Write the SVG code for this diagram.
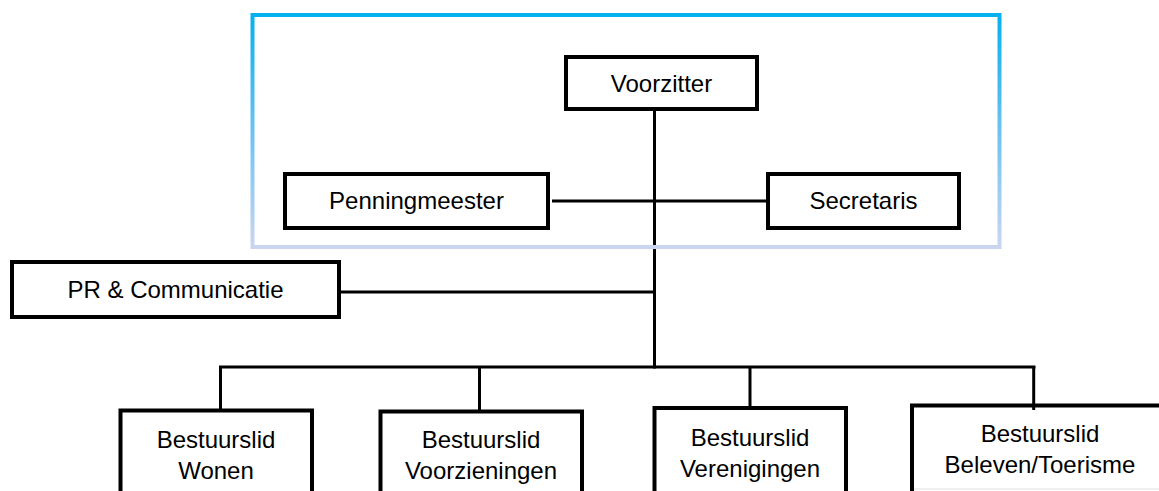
<svg xmlns="http://www.w3.org/2000/svg" width="1159" height="491" viewBox="0 0 1159 491">
  <defs>
    <linearGradient id="frameGrad" gradientUnits="userSpaceOnUse" x1="0" y1="13" x2="0" y2="249">
      <stop offset="0" stop-color="#05B0F0"/>
      <stop offset="0.5" stop-color="#6DC2EF"/>
      <stop offset="1" stop-color="#CBD6F0"/>
    </linearGradient>
  </defs>
  <style>
    .box { fill: #FFFFFF; stroke: #000000; stroke-width: 4; }
    .open { fill: none; stroke: #000000; stroke-width: 4; }
    .conn { fill: none; stroke: #000000; stroke-width: 3; }
    .lbl { font-family: "Liberation Sans", Arial, sans-serif; font-size: 24px; fill: #000000; text-anchor: middle; }
  </style>
  <rect x="0" y="0" width="1159" height="491" fill="#FFFFFF"/>

  <g id="connectors">
    <line class="conn" x1="654.5" y1="109" x2="654.5" y2="368.5"/>
    <line class="conn" x1="552" y1="201" x2="766" y2="201"/>
    <line class="conn" x1="341" y1="292" x2="654.5" y2="292"/>
    <line class="conn" x1="219" y1="367" x2="1035.5" y2="367"/>
    <line class="conn" x1="220.5" y1="367" x2="220.5" y2="409"/>
    <line class="conn" x1="479.5" y1="367" x2="479.5" y2="410"/>
    <line class="conn" x1="750" y1="367" x2="750" y2="407"/>
    <line class="conn" x1="1033.7" y1="367" x2="1033.7" y2="410"/>
  </g>

  <g id="frame">
    <rect x="252.5" y="15" width="747" height="232" fill="none" stroke="url(#frameGrad)" stroke-width="4"/>
  </g>

  <g id="voorzitter">
    <rect class="box" x="566" y="57" width="191" height="52"/>
    <text class="lbl" x="661.5" y="92">Voorzitter</text>
  </g>

  <g id="penningmeester">
    <rect class="box" x="285" y="174" width="263" height="54"/>
    <text class="lbl" x="416.5" y="209">Penningmeester</text>
  </g>

  <g id="secretaris">
    <rect class="box" x="768" y="174" width="191" height="54"/>
    <text class="lbl" x="863.5" y="209">Secretaris</text>
  </g>

  <g id="pr-communicatie">
    <rect class="box" x="12" y="262" width="327" height="55"/>
    <text class="lbl" x="175.5" y="298">PR &amp; Communicatie</text>
  </g>

  <g id="bestuurslid-wonen">
    <path class="open" d="M120.5,496 V410.5 H312 V496"/>
    <text class="lbl" x="216" y="448">Bestuurslid</text>
    <text class="lbl" x="216" y="479">Wonen</text>
  </g>

  <g id="bestuurslid-voorzieningen">
    <path class="open" d="M380.5,496 V411.5 H582 V496"/>
    <text class="lbl" x="481" y="448">Bestuurslid</text>
    <text class="lbl" x="481" y="479">Voorzieningen</text>
  </g>

  <g id="bestuurslid-verenigingen">
    <path class="open" d="M654.5,496 V408 H846 V496"/>
    <text class="lbl" x="750" y="446">Bestuurslid</text>
    <text class="lbl" x="750" y="477">Verenigingen</text>
  </g>

  <g id="bestuurslid-beleven-toerisme">
    <path class="open" d="M912,496 V405.5 H1165"/>
    <line x1="914" y1="489" x2="1159" y2="489" stroke="#E0E0E0" stroke-width="1"/>
    <text class="lbl" x="1040" y="442">Bestuurslid</text>
    <text class="lbl" x="1040" y="473">Beleven/Toerisme</text>
  </g>
</svg>
